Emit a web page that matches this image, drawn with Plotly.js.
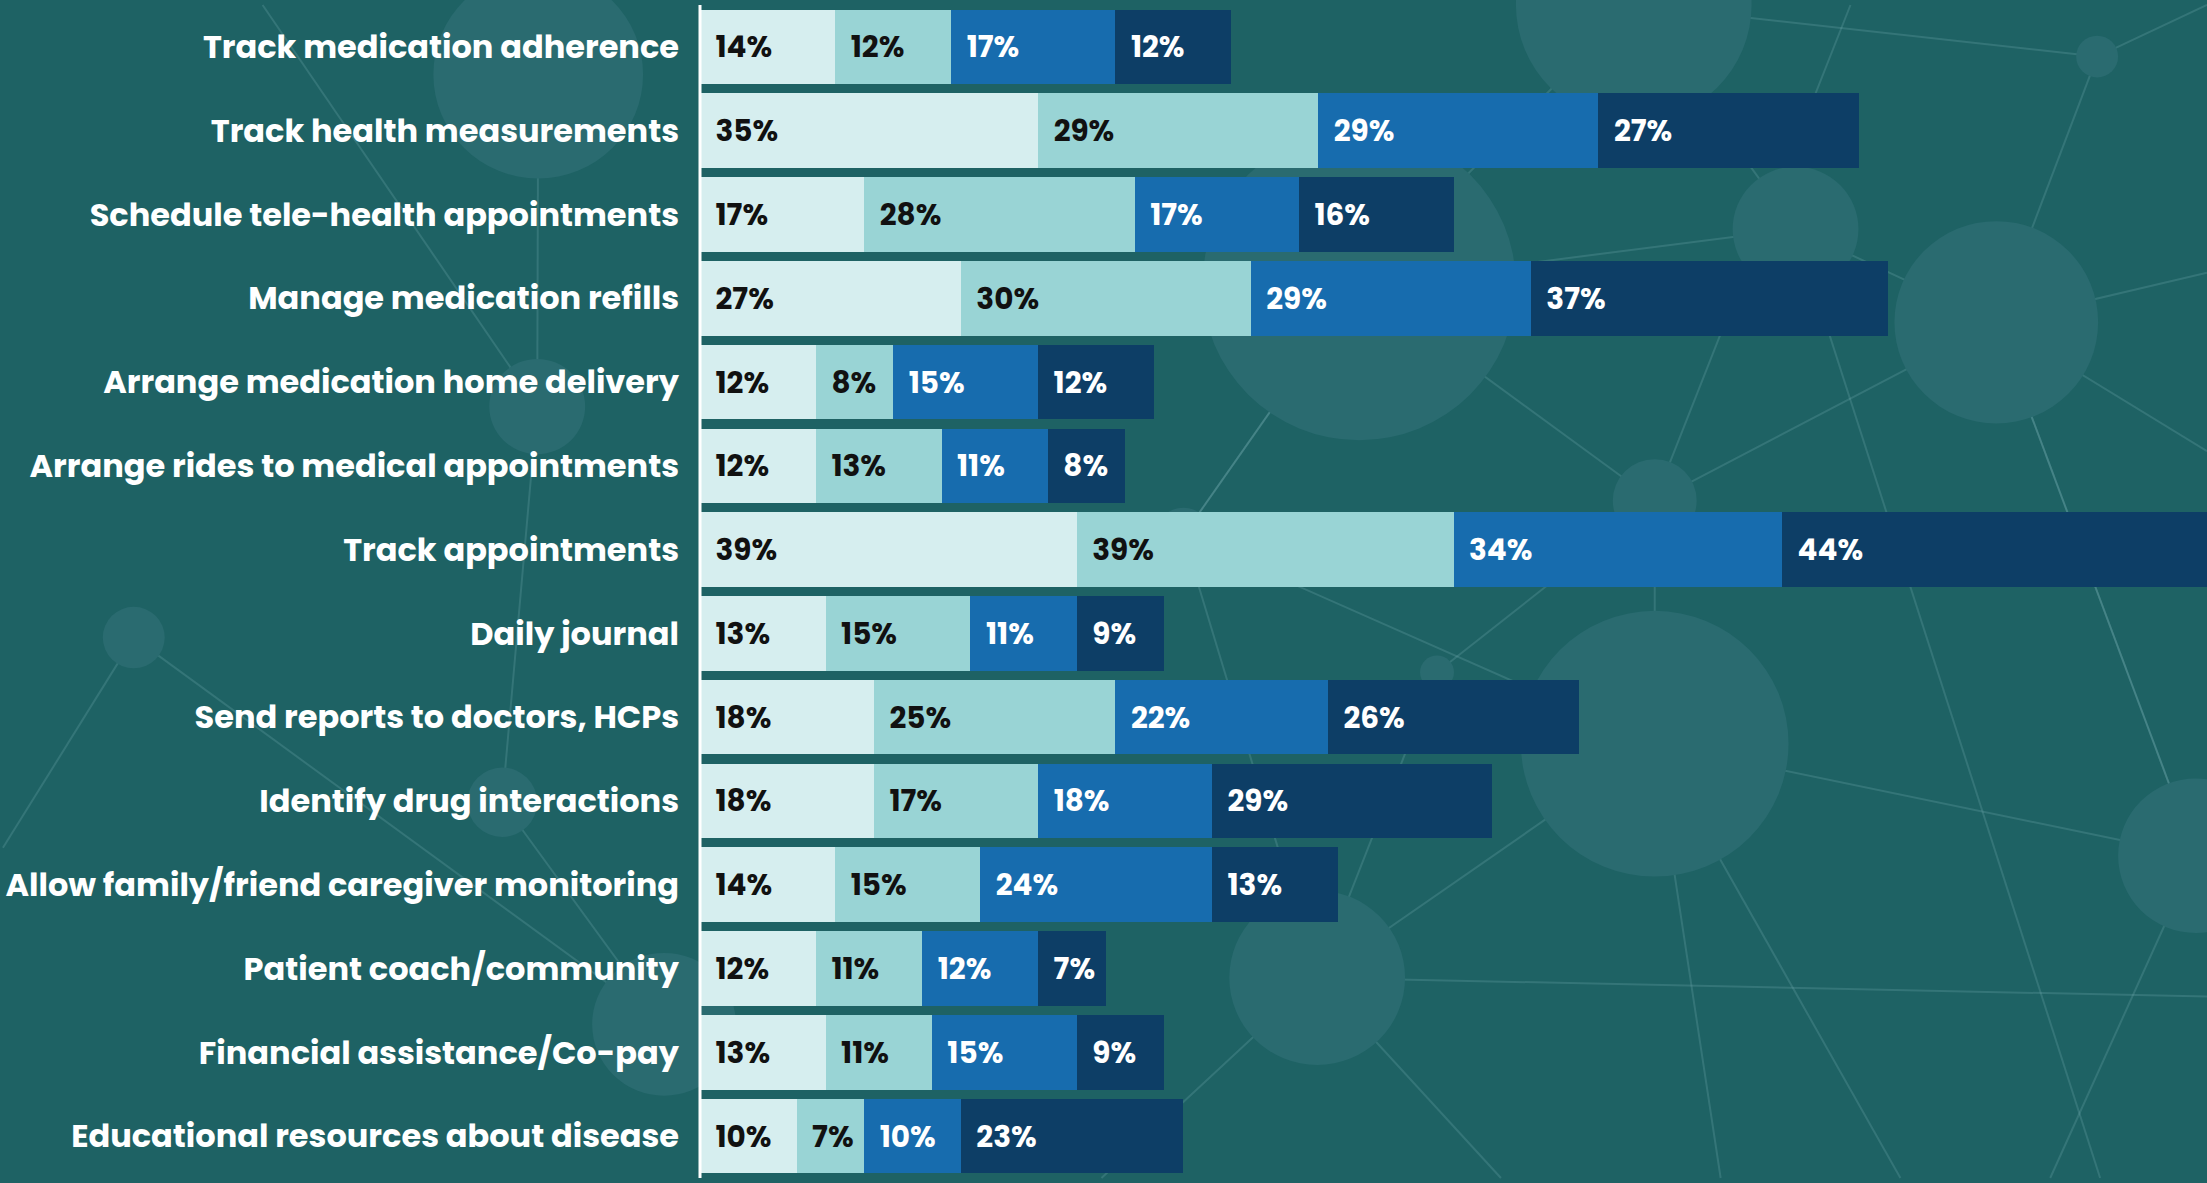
<!DOCTYPE html>
<html>
<head>
<meta charset="utf-8">
<script src="https://cdn.plot.ly/plotly-3.0.1.min.js"></script>
<style>
  html, body { margin: 0; padding: 0; background: #1e6264; }
  #chart { width: 2207px; height: 1183px; }
</style>
</head>
<body>
<div id="chart"></div>
<script>
var features = [
  "Track medication adherence",
  "Track health measurements",
  "Schedule tele-health appointments",
  "Manage medication refills",
  "Arrange medication home delivery",
  "Arrange rides to medical appointments",
  "Track appointments",
  "Daily journal",
  "Send reports to doctors, HCPs",
  "Identify drug interactions",
  "Allow family/friend caregiver monitoring",
  "Patient coach/community",
  "Financial assistance/Co-pay",
  "Educational resources about disease"
];

var group1 = [14, 35, 17, 27, 12, 12, 39, 13, 18, 18, 14, 12, 13, 10];
var group2 = [12, 29, 28, 30, 8, 13, 39, 15, 25, 17, 15, 11, 11, 7];
var group3 = [17, 29, 17, 29, 15, 11, 34, 11, 22, 18, 24, 12, 15, 10];
var group4 = [12, 27, 16, 37, 12, 8, 44, 9, 26, 29, 13, 7, 9, 23];

var colors = ["#d6eeef", "#99d4d5", "#176cae", "#0d3e66"];
var textColors = ["#111111", "#111111", "#ffffff", "#ffffff"];

var data = [group1, group2, group3, group4].map(function (vals, i) {
  return {
    type: "bar",
    orientation: "h",
    y: features,
    x: vals,
    marker: { color: colors[i], line: { width: 0 } },
    texttemplate: "  %{x}%",
    textposition: "inside",
    insidetextanchor: "start",
    constraintext: "none",
    textfont: { family: "Poppins, 'Open Sans', sans-serif", size: 29.5, color: textColors[i], weight: 700 },
    hoverinfo: "skip",
    showlegend: false
  };
});

// background decoration: faint network of circles and lines (pixel positions)
var bgCircles = [
  [1358, 282, 157], [1633, 0, 118], [2097, 52, 21], [1795, 226, 63],
  [1996, 320, 102], [1654, 500, 42], [1654, 745, 134], [2196, 858, 78],
  [1316, 981, 88], [131, 638, 31], [662, 1028, 72], [1182, 535, 28],
  [1436, 673, 17], [536, 70, 105], [535, 405, 48], [500, 804, 35]
];
var bgLines = [
  [1358, 282, 1633, 0], [1358, 282, 1795, 226], [1795, 226, 1996, 320],
  [1654, 500, 1358, 282], [1654, 500, 1654, 745], [1654, 745, 2196, 858],
  [1654, 745, 1316, 981], [1316, 981, 2207, 1000], [1182, 535, 1358, 282],
  [1182, 535, 1654, 745], [1996, 320, 2207, 450], [1633, 0, 1795, 226],
  [131, 638, 662, 1028], [1316, 981, 1500, 1183], [1996, 320, 2196, 858],
  [2097, 52, 1996, 320], [1795, 226, 2100, 1183], [1436, 673, 1316, 981],
  [536, 70, 535, 405], [260, 0, 535, 405], [0, 850, 131, 638],
  [1633, 0, 2097, 52], [2097, 52, 2207, 0], [1996, 320, 2207, 270],
  [1654, 500, 1996, 320], [1654, 500, 1850, 0], [2196, 858, 1996, 320],
  [1654, 745, 1720, 1183], [1654, 745, 1900, 1183], [1182, 535, 1316, 981],
  [1436, 673, 1654, 500], [1316, 981, 1100, 1183], [2196, 858, 2050, 1183],
  [535, 405, 500, 804], [500, 804, 662, 1028], [1358, 282, 1182, 535]
];
var W = 2207, H = 1183, X0 = 698;
function px(x) { return (x - X0) / (W - X0); }
function py(y) { return 1 - y / H; }
var shapes = [];
bgLines.forEach(function (l) {
  shapes.push({
    type: "line", xref: "paper", yref: "paper", layer: "below",
    x0: px(l[0]), x1: px(l[2]), y0: py(l[1]), y1: py(l[3]),
    line: { color: "rgba(120,175,178,0.25)", width: 2 }
  });
});
bgCircles.forEach(function (c) {
  shapes.push({
    type: "circle", xref: "paper", yref: "paper", layer: "below",
    x0: px(c[0] - c[2]), x1: px(c[0] + c[2]),
    y0: py(c[1] + c[2]), y1: py(c[1] - c[2]),
    fillcolor: "#2a6b70", line: { width: 0 }
  });
});
// white axis line running the full height
shapes.push({
  type: "line", xref: "paper", yref: "paper", layer: "above",
  x0: px(698), x1: px(698), y0: py(H), y1: py(0),
  line: { color: "#ffffff", width: 3 }
});

var layout = {
  width: 2207,
  height: 1183,
  margin: { l: 700, r: 0, t: 5, b: 5, pad: 0 },
  paper_bgcolor: "#1e6264",
  plot_bgcolor: "rgba(0,0,0,0)",
  barmode: "stack",
  bargap: 0.11,
  font: { family: "Poppins, 'Open Sans', sans-serif" },
  xaxis: {
    range: [0, 156],
    visible: false,
    fixedrange: true
  },
  yaxis: {
    autorange: "reversed",
    showgrid: false,
    zeroline: false,
    showline: false,
    ticks: "",
    ticklabelstandoff: 20,
    tickfont: { size: 32, color: "#ffffff", weight: 700 },
    fixedrange: true
  },
  shapes: shapes
};

Plotly.newPlot("chart", data, layout, { displayModeBar: false, staticPlot: true });
</script>
</body>
</html>
